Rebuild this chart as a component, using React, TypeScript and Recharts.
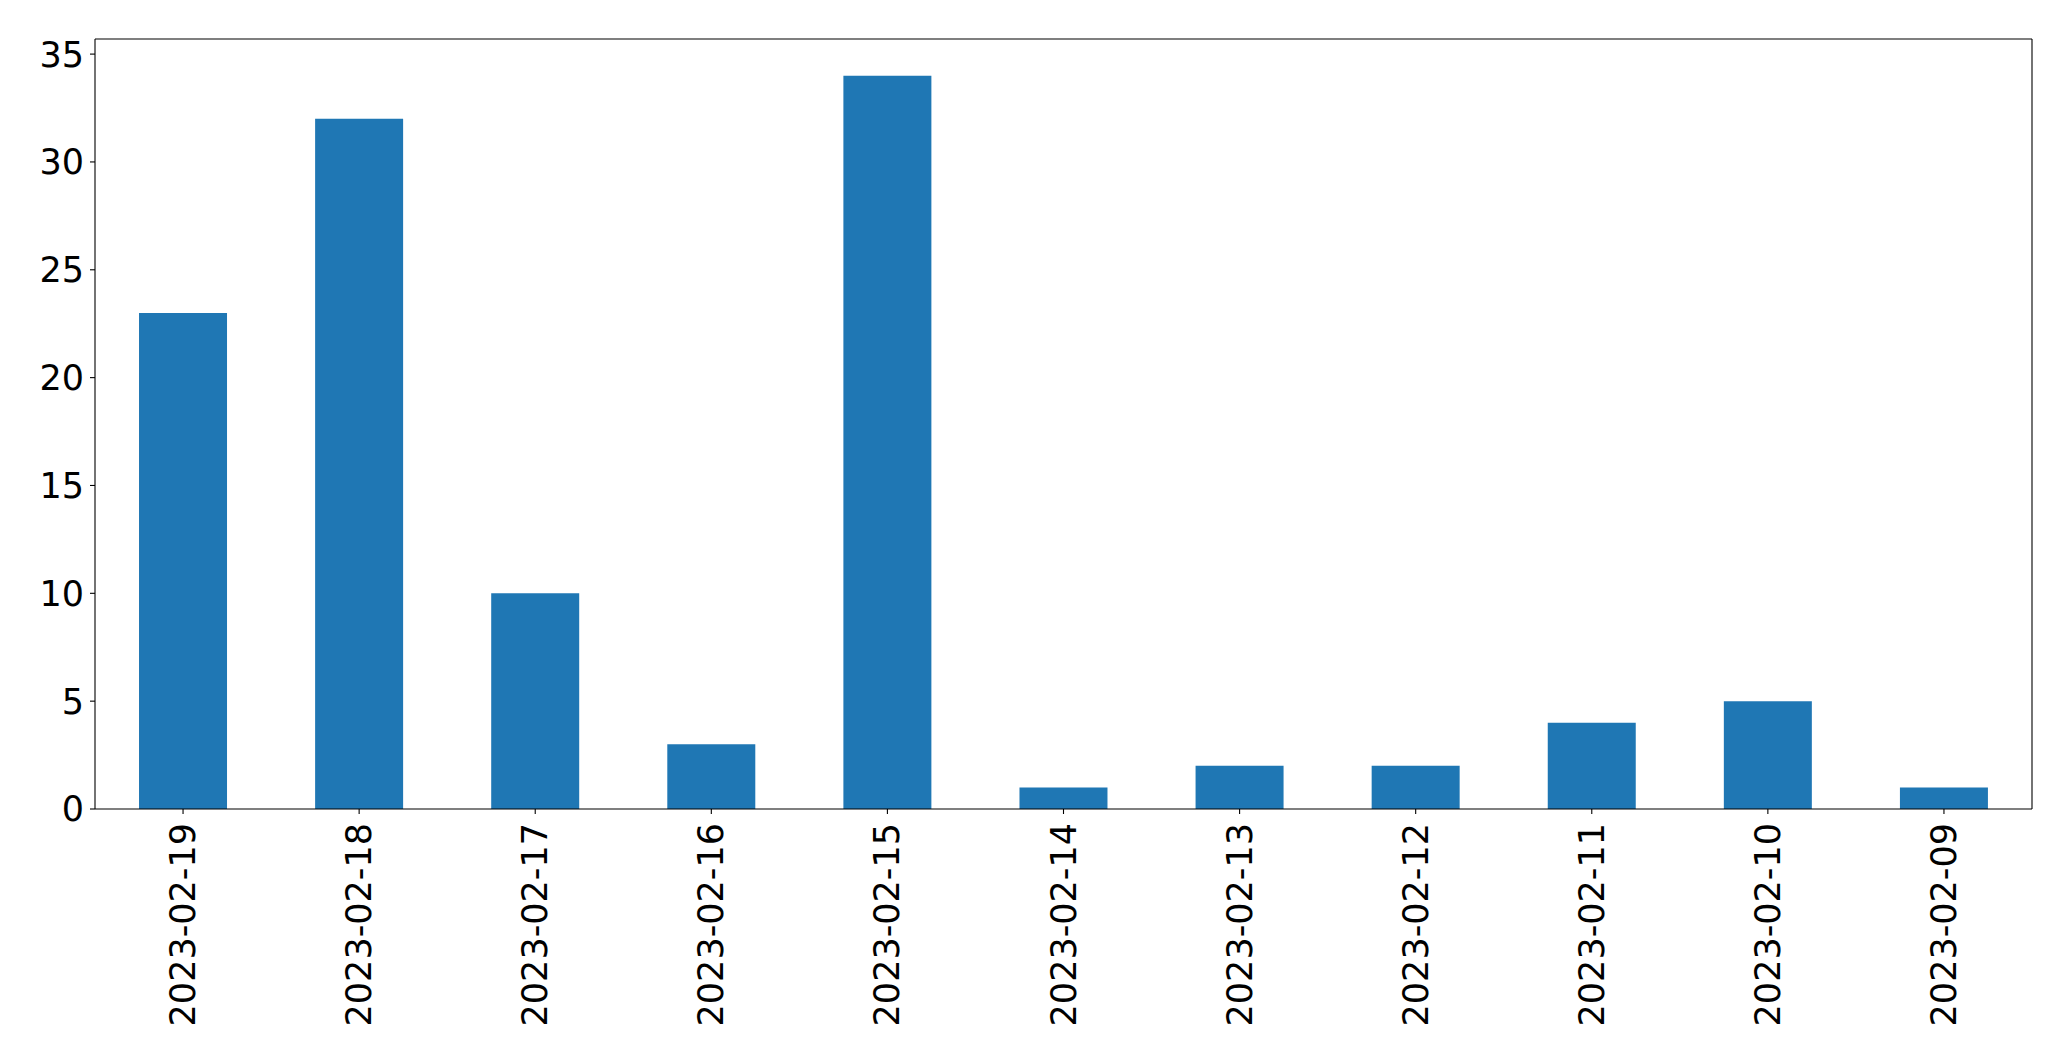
import { BarChart, Bar, XAxis, YAxis } from 'recharts'

const dates = [
  '2023-02-19', '2023-02-18', '2023-02-17', '2023-02-16', '2023-02-15', '2023-02-14',
  '2023-02-13', '2023-02-12', '2023-02-11', '2023-02-10', '2023-02-09',
]
const counts = [23, 32, 10, 3, 34, 1, 2, 2, 4, 5, 1]
const yTicks = [0, 5, 10, 15, 20, 25, 30, 35]

const data = dates.map((d, i) => ({ date: d, count: counts[i] }))

const FONT = '"DejaVu Sans", sans-serif'
const FONT_SIZE = 35

// rotated date labels, read bottom to top like matplotlib rotation=90
function DateTick(props: any) {
  const { x, y, payload } = props
  return (
    <text
      x={x}
      y={y}
      transform={`rotate(-90, ${x}, ${y})`}
      textAnchor="end"
      dominantBaseline="central"
      fontFamily={FONT}
      fontSize={FONT_SIZE}
      fill="#000"
    >
      {payload.value}
    </text>
  )
}

export default function App() {
  const axisLine = { stroke: '#000', strokeWidth: 1.1 }
  const tickLine = { stroke: '#000', strokeWidth: 1.1 }

  return (
    <div style={{ position: 'absolute', top: 0, left: 0, background: '#fff' }}>
      <BarChart
        width={2071}
        height={1061}
        data={data}
        margin={{ top: 38, right: 38, bottom: 0, left: 0 }}
        barCategoryGap="25%"
      >
        <XAxis
          dataKey="date"
          height={252}
          interval={0}
          tickSize={5}
          tickMargin={9}
          axisLine={axisLine}
          tickLine={tickLine}
          tick={<DateTick />}
        />
        {/* top and right spines */}
        <XAxis xAxisId="top" dataKey="date" orientation="top" height={1} tick={false} tickLine={false} axisLine={axisLine} />
        <YAxis
          width={95}
          domain={[0, 35.7]}
          ticks={yTicks}
          interval={0}
          tickSize={5}
          tickMargin={6}
          axisLine={axisLine}
          tickLine={tickLine}
          tick={{ fontFamily: FONT, fontSize: FONT_SIZE, fill: '#000' }}
        />
        <YAxis yAxisId="right" orientation="right" width={1} domain={[0, 35.7]} tick={false} tickLine={false} axisLine={axisLine} />
        <Bar dataKey="count" fill="#1f77b4" isAnimationActive={false} />
      </BarChart>
    </div>
  )
}
